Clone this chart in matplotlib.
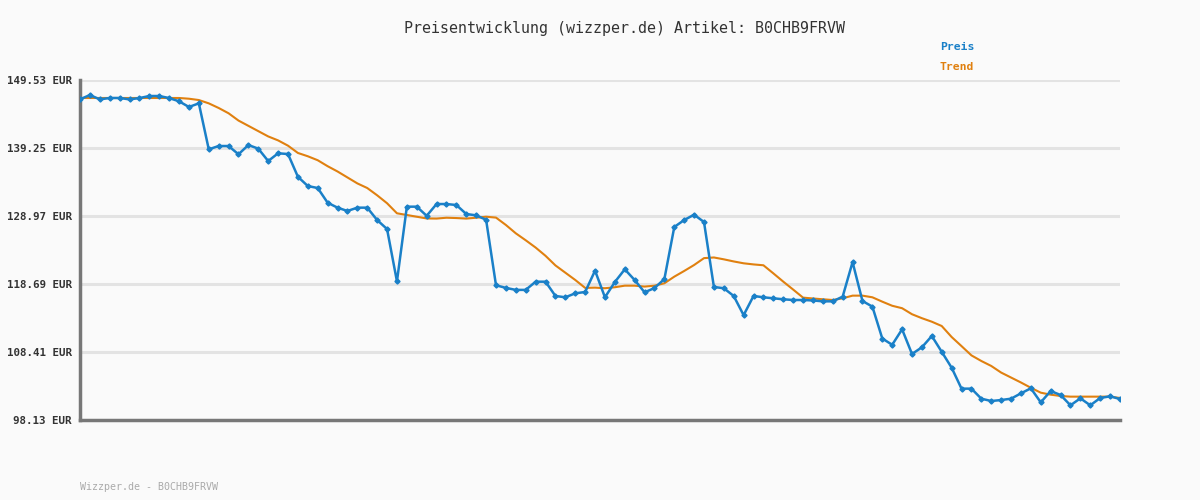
import numpy as np
import matplotlib
matplotlib.use("Agg")
import matplotlib.pyplot as plt

# Preisverlauf
preis = [146.61, 147.26, 146.6, 146.81, 146.81, 146.6, 146.8, 147.11, 147.11, 146.8,
         146.31, 145.45, 146.0, 139.05, 139.55, 139.55, 138.3, 139.7, 139.15, 137.28,
         138.45, 138.34, 134.9, 133.5, 133.2, 130.98, 130.23, 129.73, 130.23, 130.23,
         128.36, 127.0, 119.09, 130.38, 130.38, 129.0, 130.78, 130.78, 130.63, 129.27,
         129.07, 128.4, 118.5, 118.1, 117.8, 117.8, 119.04, 119.04, 116.88, 116.68,
         117.28, 117.48, 120.71, 116.68, 118.99, 120.91, 119.29, 117.43, 118.08, 119.44,
         127.31, 128.36, 129.17, 128.06, 118.24, 118.05, 116.88, 113.98, 116.88, 116.68,
         116.53, 116.38, 116.27, 116.27, 116.2, 116.07, 116.07, 116.78, 122.0, 116.12,
         115.27, 110.45, 109.5, 111.84, 108.11, 109.12, 110.83, 108.44, 106.04, 102.87,
         102.87, 101.35, 101.0, 101.15, 101.35, 102.16, 102.92, 100.8, 102.51, 101.91,
         100.35, 101.41, 100.35, 101.46, 101.71, 101.3]

trend = [146.81] * 11 + [
    146.7, 146.5, 146.0, 145.3, 144.5, 143.4, 142.6, 141.8, 141.0,
    140.4, 139.6, 138.5, 138.0, 137.4, 136.5, 135.7, 134.8, 133.9, 133.2,
    132.1, 130.9, 129.38, 129.12, 128.86, 128.6, 128.58, 128.71, 128.66, 128.58,
    128.71, 128.86, 128.73, 127.61, 126.35, 125.3, 124.2, 122.95, 121.5, 120.4,
    119.3, 118.1, 118.14, 118.05, 118.2, 118.44, 118.44, 118.3, 118.44, 118.8,
    119.8, 120.66, 121.56, 122.6, 122.7, 122.42, 122.1, 121.82, 121.65, 121.52,
    120.3, 119.05, 117.85, 116.63, 116.5, 116.38, 116.27, 116.53, 116.93, 116.93,
    116.68, 116.02, 115.4, 115.03, 114.12, 113.52, 112.99, 112.34, 110.68, 109.3,
    107.9, 107.05, 106.3, 105.3, 104.55, 103.8, 103.0, 102.26, 101.96, 101.76,
    101.66, 101.66, 101.66, 101.66, 101.66, 101.46]

yticks = [98.13, 108.41, 118.69, 128.97, 139.25, 149.53]
artikel = "B0CHB9FRVW"

blau = '#1a80c8'
orange = '#e0800f'
bg = '#fafafa'
mono = ['DejaVu Sans Mono']

x = np.arange(len(preis))

fig = plt.figure(figsize=(12, 5), dpi=100, facecolor=bg)
ax = fig.add_axes([80 / 1200, 80 / 500, 1040 / 1200, 340 / 500], facecolor=bg)

for v in yticks[1:]:
    ax.axhline(v, color='#e3e3e3', lw=2.2, zorder=1)

ax.plot(x, trend, color=orange, lw=1.5, zorder=2)
ax.plot(x, preis, color=blau, lw=1.8, marker='D', markersize=2.6, zorder=3)

ax.set_xlim(0, len(preis) - 1)
ax.set_ylim(yticks[0], yticks[-1])
ax.set_yticks(yticks)
ax.set_yticklabels([f"{v:.2f} EUR" for v in yticks], family=mono,
                   fontweight='bold', fontsize=7.8, color='#333333')
ax.tick_params(axis='y', length=0, pad=6)
ax.set_xticks([])

for s in ['top', 'right']:
    ax.spines[s].set_visible(False)
for s in ['left', 'bottom']:
    ax.spines[s].set_color('#777777')
    ax.spines[s].set_linewidth(2.5)

fig.text(624 / 1200, 1 - 28 / 500, f"Preisentwicklung (wizzper.de) Artikel: {artikel}",
         ha='center', va='center', family=mono, fontsize=10.8, color='#333333')
fig.text(940 / 1200, 1 - 47 / 500, "Preis", ha='left', va='center', family=mono,
         fontweight='bold', fontsize=8.2, color=blau)
fig.text(940 / 1200, 1 - 67 / 500, "Trend", ha='left', va='center', family=mono,
         fontweight='bold', fontsize=8.2, color=orange)
fig.text(80 / 1200, 1 - 487 / 500, f"Wizzper.de - {artikel}", ha='left', va='center',
         family=mono, fontsize=7.2, color='#aaaaaa')

fig.savefig('out.png', dpi=100, facecolor=bg)
